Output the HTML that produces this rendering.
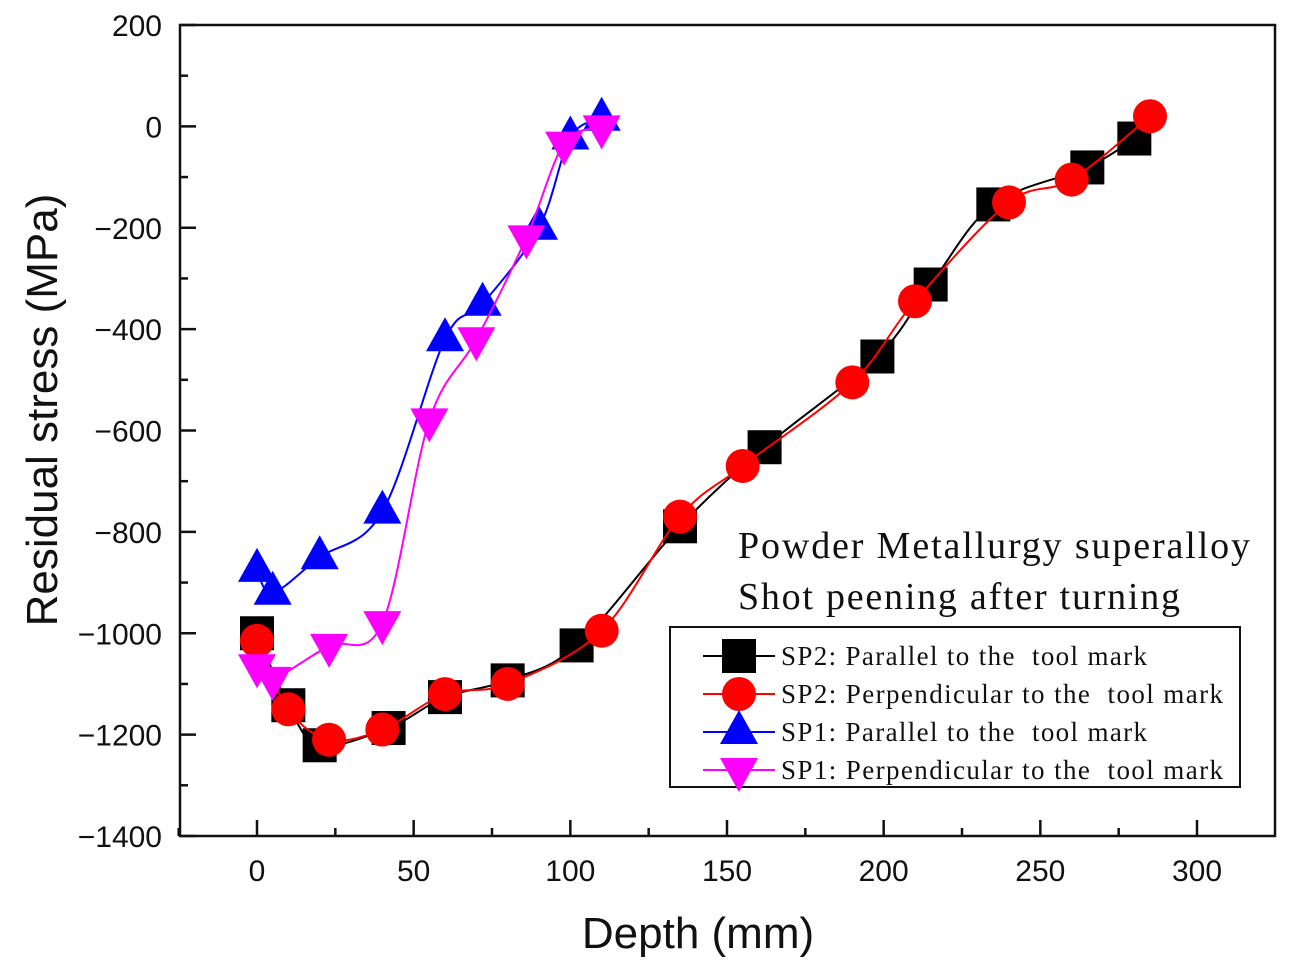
<!DOCTYPE html>
<html><head><meta charset="utf-8"><style>
body{margin:0;background:#fff;}
svg{display:block;}
text{white-space:pre;}
</style></head><body>
<svg width="1292" height="971" viewBox="0 0 1292 971" xmlns="http://www.w3.org/2000/svg">
<g id="axes"></g>
<g id="series"></g>
<text x="738" y="558" font-family="Liberation Serif, serif" font-size="38" fill="#111" textLength="512">Powder Metallurgy superalloy</text>
<text x="738" y="609" font-family="Liberation Serif, serif" font-size="38" fill="#111" textLength="442">Shot peening after turning</text>
<g id="legend"></g>
<text x="698" y="948" text-anchor="middle" font-family="Liberation Sans, sans-serif" font-size="44" fill="#111">Depth (mm)</text>
<text transform="translate(57,410) rotate(-90)" text-anchor="middle" font-family="Liberation Sans, sans-serif" font-size="44" fill="#111">Residual stress (MPa)</text>
</svg>
<script>
const xTicks=[0,50,100,150,200,250,300];
const yTicks=[200,0,-200,-400,-600,-800,-1000,-1200,-1400];
const sp2ParX=[0,10,20,42,60,80,102,135,162,198,215,235,265,280];
const sp2ParY=[-1000,-1142,-1221,-1187,-1126,-1093,-1024,-789,-633,-454,-312,-154,-81,-24];
const sp2PerX=[0,10,23,40,60,80,110,135,155,190,210,240,260,285];
const sp2PerY=[-1015,-1150,-1210,-1190,-1120,-1100,-995,-770,-670,-505,-345,-150,-105,20];
const sp1ParX=[0,5,20,40,60,72,90,100,110];
const sp1ParY=[-875,-920,-850,-760,-420,-350,-200,-22,15];
const sp1PerX=[0,5,23,40,55,70,86,98,110];
const sp1PerY=[-1065,-1090,-1025,-980,-580,-420,-219,-34,-2];
const legendLabels=["SP2: Parallel to the  tool mark","SP2: Perpendicular to the  tool mark","SP1: Parallel to the  tool mark","SP1: Perpendicular to the  tool mark"];

const NS="http://www.w3.org/2000/svg";
const L=180,R=1275,T=25,B=836;
const sx=d=>257+d*(1197-257)/300;
const sy=v=>T+(200-v)*(B-T)/1600;
function mk(tag,attrs,parent){const e=document.createElementNS(NS,tag);for(const k in attrs)e.setAttribute(k,attrs[k]);parent.appendChild(e);return e;}
const ax=document.getElementById('axes');
const frame=mk('rect',{x:L,y:T,width:R-L,height:B-T,fill:'none',stroke:'#111','stroke-width':2.5},ax);


xTicks.forEach((t,i)=>{
  const x=sx(t);
  const tk=mk('line',{x1:x,x2:x,y1:B,y2:B-16,stroke:'#111','stroke-width':2.5},ax);
  
  
  if(i<xTicks.length-1){const m=mk('line',{x1:sx(t+25),x2:sx(t+25),y1:B,y2:B-8,stroke:'#111','stroke-width':2.5},ax);
  
  }
  const lb=mk('text',{x:x,y:881,'text-anchor':'middle','font-family':'Liberation Sans, sans-serif','font-size':30,fill:'#111'},ax);
  lb.textContent=t;
  
  
});
const m0=mk('line',{x1:sx(-25),x2:sx(-25),y1:B,y2:B-8,stroke:'#111','stroke-width':2.5},ax);


yTicks.forEach((t,i)=>{
  const y=sy(t);
  const tk=mk('line',{x1:L,x2:L+16,y1:y,y2:y,stroke:'#111','stroke-width':2.5},ax);
  
  
  if(i<yTicks.length-1){const m=mk('line',{x1:L,x2:L+8,y1:sy(t-100),y2:sy(t-100),stroke:'#111','stroke-width':2.5},ax);
  
  }
  const lb=mk('text',{x:162,y:y+11,'text-anchor':'end','font-family':'Liberation Sans, sans-serif','font-size':30,fill:'#111'},ax);
  lb.textContent=String(t).replace('-','\u2212');
  
  
});
function smooth(pts){
  let d=`M${pts[0][0]},${pts[0][1]}`;
  for(let i=0;i<pts.length-1;i++){
    const p0=pts[Math.max(0,i-1)],p1=pts[i],p2=pts[i+1],p3=pts[Math.min(pts.length-1,i+2)];
    const c1=[p1[0]+(p2[0]-p0[0])/6,p1[1]+(p2[1]-p0[1])/6];
    const c2=[p2[0]-(p3[0]-p1[0])/6,p2[1]-(p3[1]-p1[1])/6];
    d+=` C${c1[0]},${c1[1]} ${c2[0]},${c2[1]} ${p2[0]},${p2[1]}`;
  }
  return d;
}
function marker(shape,x,y,color,parent){
  let e;
  if(shape==='square')e=mk('rect',{x:x-17,y:y-17,width:34,height:34,fill:color},parent);
  else if(shape==='circle')e=mk('circle',{cx:x,cy:y,r:17,fill:color},parent);
  else if(shape==='up')e=mk('polygon',{points:`${x},${y-22} ${x-19},${y+12} ${x+19},${y+12}`,fill:color},parent);
  else e=mk('polygon',{points:`${x},${y+22} ${x-19},${y-12} ${x+19},${y-12}`,fill:color},parent);
  return e;
}
const sg=document.getElementById('series');
const series=[
 {xs:sp2ParX,ys:sp2ParY,c:'#000',s:'square',n:'sp2-parallel'},
 {xs:sp2PerX,ys:sp2PerY,c:'#ff0000',s:'circle',n:'sp2-perpendicular'},
 {xs:sp1ParX,ys:sp1ParY,c:'#0000ff',s:'up',n:'sp1-parallel'},
 {xs:sp1PerX,ys:sp1PerY,c:'#ff00ff',s:'down',n:'sp1-perpendicular'}];
series.forEach(S=>{
  const g=mk('g',{},sg);
  
  
  const pts=S.xs.map((x,i)=>[sx(x),sy(S.ys[i])]);
  const p=mk('path',{d:smooth(pts),fill:'none',stroke:S.c,'stroke-width':2},g);
  
  
  pts.forEach(q=>{const m=marker(S.s,q[0],q[1],S.c,g);
    
    });
});
const lg=document.getElementById('legend');
mk('rect',{x:670,y:627,width:570,height:160,fill:'#fff',stroke:'#111','stroke-width':2},lg);
const legendW=[366,442,366,442];
series.forEach((S,i)=>{
  const y=656+i*38;
  const ln=mk('line',{x1:703,x2:775,y1:y,y2:y,stroke:S.c,'stroke-width':2},lg);
  
  
  const m=marker(S.s,739,y,S.c,lg);
  
  
  const t=mk('text',{x:781,y:y+9,'font-family':'Liberation Serif, serif','font-size':27,fill:'#111',textLength:legendW[i]},lg);
  t.textContent=legendLabels[i];
  
  
});
</script>
</body></html>
